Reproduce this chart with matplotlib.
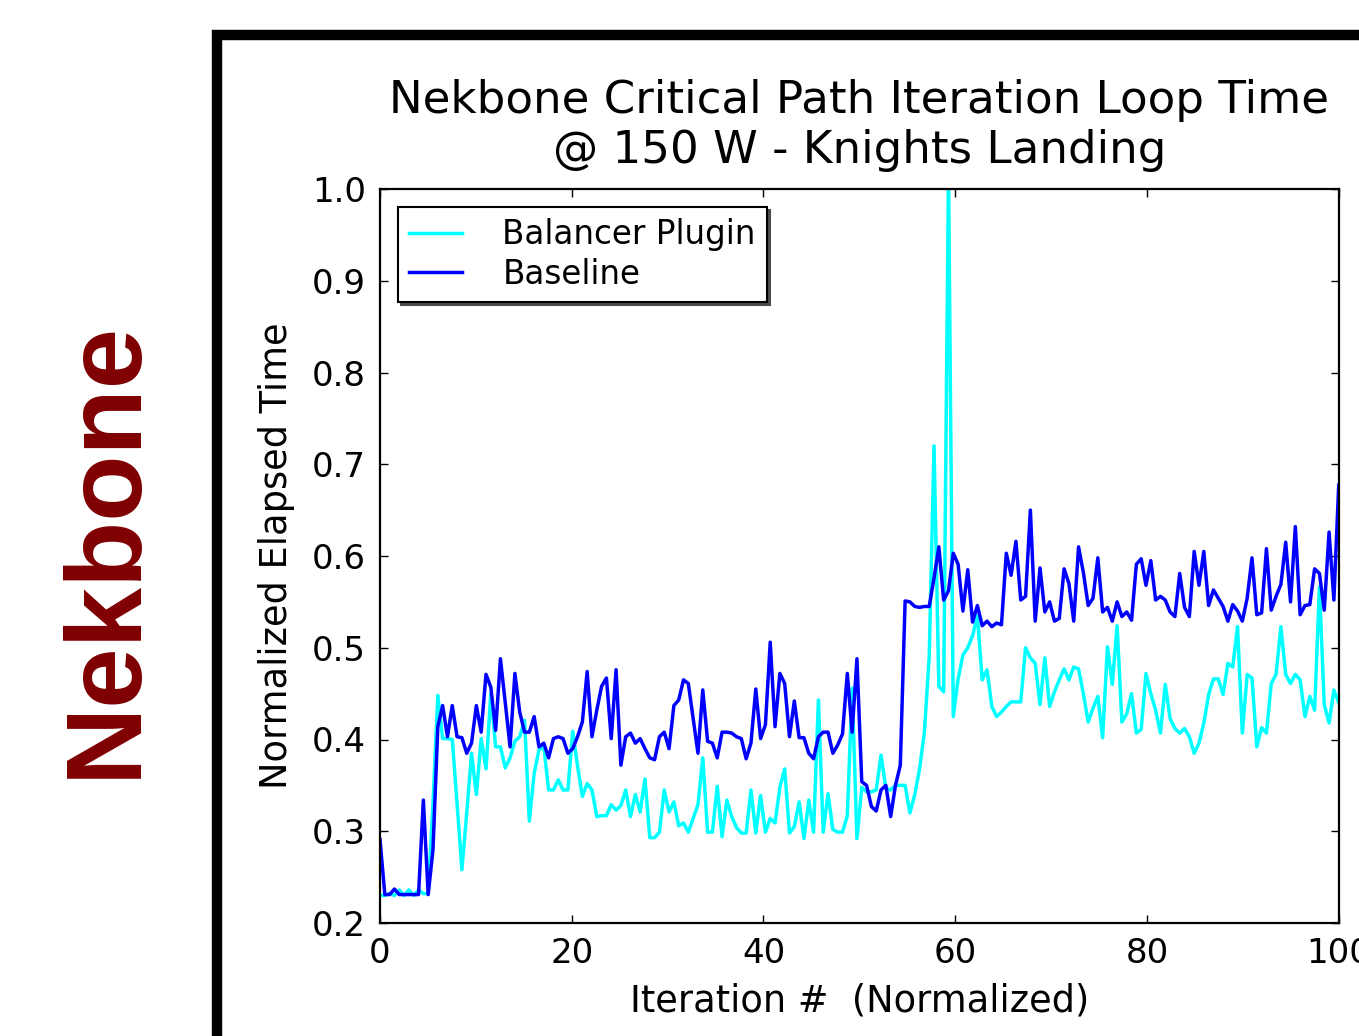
import numpy as np
import matplotlib
matplotlib.use("Agg")
import matplotlib.pyplot as plt
from matplotlib.patches import Rectangle

# ---------------- data ----------------
balancer_plugin = [
    0.230, 0.230, 0.232, 0.230, 0.236, 0.230, 0.236, 0.230, 0.236, 0.232,
    0.232, 0.330, 0.448, 0.401, 0.401, 0.400, 0.330, 0.258, 0.320, 0.385,
    0.340, 0.401, 0.368, 0.450, 0.392, 0.392, 0.369, 0.380, 0.398, 0.403,
    0.421, 0.311, 0.363, 0.389, 0.392, 0.345, 0.345, 0.356, 0.345, 0.345,
    0.409, 0.371, 0.338, 0.352, 0.345, 0.316, 0.317, 0.317, 0.329, 0.323,
    0.328, 0.345, 0.316, 0.340, 0.321, 0.357, 0.293, 0.293, 0.299, 0.345,
    0.321, 0.332, 0.306, 0.309, 0.299, 0.314, 0.329, 0.380, 0.299, 0.299,
    0.349, 0.294, 0.334, 0.316, 0.304, 0.298, 0.298, 0.345, 0.298, 0.339,
    0.299, 0.314, 0.309, 0.348, 0.368, 0.298, 0.305, 0.332, 0.292, 0.334,
    0.299, 0.443, 0.299, 0.341, 0.302, 0.299, 0.299, 0.317, 0.456, 0.292,
    0.348, 0.343, 0.343, 0.345, 0.383, 0.347, 0.345, 0.350, 0.350, 0.350,
    0.320, 0.340, 0.368, 0.408, 0.490, 0.720, 0.458, 0.452, 1.020, 0.425,
    0.466, 0.492, 0.500, 0.513, 0.535, 0.465, 0.476, 0.436, 0.425, 0.430,
    0.436, 0.441, 0.441, 0.441, 0.500, 0.489, 0.483, 0.438, 0.489, 0.436,
    0.452, 0.465, 0.477, 0.465, 0.479, 0.477, 0.450, 0.419, 0.434, 0.447,
    0.402, 0.501, 0.460, 0.524, 0.419, 0.428, 0.450, 0.407, 0.411, 0.472,
    0.450, 0.432, 0.407, 0.460, 0.423, 0.412, 0.407, 0.412, 0.403, 0.385,
    0.396, 0.418, 0.449, 0.466, 0.466, 0.449, 0.483, 0.479, 0.523, 0.407,
    0.471, 0.467, 0.392, 0.413, 0.407, 0.461, 0.471, 0.523, 0.471, 0.461,
    0.471, 0.465, 0.425, 0.447, 0.432, 0.566, 0.438, 0.418, 0.454, 0.440,
]

baseline = [
    0.291, 0.231, 0.231, 0.237, 0.231, 0.231, 0.231, 0.231, 0.231, 0.334,
    0.231, 0.280, 0.414, 0.437, 0.403, 0.437, 0.403, 0.402, 0.385, 0.396,
    0.437, 0.408, 0.471, 0.457, 0.410, 0.488, 0.440, 0.392, 0.472, 0.430,
    0.408, 0.408, 0.425, 0.392, 0.396, 0.380, 0.401, 0.403, 0.401, 0.385,
    0.390, 0.403, 0.419, 0.474, 0.403, 0.432, 0.458, 0.467, 0.401, 0.476,
    0.372, 0.403, 0.407, 0.396, 0.401, 0.390, 0.380, 0.378, 0.403, 0.408,
    0.390, 0.437, 0.443, 0.465, 0.461, 0.423, 0.385, 0.454, 0.398, 0.396,
    0.380, 0.408, 0.408, 0.407, 0.403, 0.401, 0.379, 0.396, 0.455, 0.401,
    0.416, 0.506, 0.414, 0.472, 0.461, 0.403, 0.442, 0.402, 0.402, 0.385,
    0.379, 0.403, 0.408, 0.408, 0.385, 0.394, 0.406, 0.472, 0.408, 0.488,
    0.354, 0.350, 0.327, 0.322, 0.345, 0.350, 0.316, 0.350, 0.372, 0.551,
    0.550, 0.545, 0.544, 0.545, 0.545, 0.576, 0.610, 0.552, 0.562, 0.603,
    0.591, 0.540, 0.585, 0.528, 0.546, 0.524, 0.529, 0.523, 0.527, 0.525,
    0.603, 0.579, 0.616, 0.552, 0.556, 0.650, 0.529, 0.587, 0.539, 0.550,
    0.529, 0.532, 0.586, 0.570, 0.529, 0.610, 0.582, 0.546, 0.554, 0.598,
    0.539, 0.544, 0.529, 0.550, 0.534, 0.539, 0.530, 0.591, 0.597, 0.568,
    0.595, 0.552, 0.556, 0.552, 0.539, 0.534, 0.581, 0.544, 0.534, 0.605,
    0.568, 0.605, 0.546, 0.563, 0.554, 0.545, 0.529, 0.547, 0.540, 0.529,
    0.554, 0.598, 0.536, 0.538, 0.608, 0.541, 0.556, 0.569, 0.615, 0.550,
    0.632, 0.536, 0.546, 0.547, 0.586, 0.581, 0.541, 0.626, 0.552, 0.677,
]

series_labels = ["Balancer Plugin", "Baseline"]
x_ticks = [0, 20, 40, 60, 80, 100]
y_ticks = [0.2, 0.3, 0.4, 0.5, 0.6, 0.7, 0.8, 0.9, 1.0]
title = "Nekbone Critical Path Iteration Loop Time\n@ 150 W - Knights Landing"
x_label = "Iteration #  (Normalized)"
y_label = "Normalized Elapsed Time"
side_label = "Nekbone"

# normalized iteration axis (0..100) for each sample
iteration = np.arange(len(baseline)) * 100.0 / (len(baseline) - 1)

# ---------------- figure ----------------
plt.rcParams['font.family'] = ['DejaVu Sans']
W, H = 1359, 1036
fig = plt.figure(figsize=(W / 100, H / 100), dpi=100)
fig.patch.set_facecolor('white')

# slide frame (thick black border, top and left visible)
frame = Rectangle((217 / W, -0.2), 2.0, (1 - 35 / H) + 0.2,
                  transform=fig.transFigure, fill=False,
                  edgecolor='black', linewidth=7.5, clip_on=False)
fig.add_artist(frame)

# side label
fig.text(107 / W, 1 - 549 / H, side_label, rotation=90, color='#800000',
         fontsize=78, fontweight='bold', family='Liberation Sans',
         ha='center', va='center')

ax = fig.add_axes([380 / W, 1 - 923 / H, 958.7 / W, 734 / H])
ax.plot(iteration, balancer_plugin, color='cyan', lw=2.5,
        label=series_labels[0])
ax.plot(iteration, baseline, color='blue', lw=2.5, label=series_labels[1])

ax.set_xlim(0, 100)
ax.set_ylim(0.2, 1.0)
ax.set_xticks(x_ticks)
ax.set_yticks(y_ticks)
ax.set_xticklabels([str(t) for t in x_ticks])
ax.set_yticklabels([f"{t:.1f}" for t in y_ticks])
ax.tick_params(direction='in', length=6, width=1, top=True, right=True,
               labelsize=24.5, pad=10)
for s in ax.spines.values():
    s.set_linewidth(1.6)

ax.set_title(title, fontsize=32.5, pad=19, linespacing=1.2)
ax.set_xlabel(x_label, fontsize=26.5, labelpad=9)
ax.set_ylabel(y_label, fontsize=26.5, labelpad=12)

leg = ax.legend(loc='upper left', fontsize=23.5,
                shadow={'color': '0.3', 'alpha': 1.0}, fancybox=False,
                frameon=True, handlelength=1.6, handletextpad=1.25,
                borderaxespad=0.55, borderpad=0.35, labelspacing=0.2)
leg.get_frame().set_edgecolor('black')
leg.get_frame().set_linewidth(1.5)

fig.savefig('out.png', dpi=100)
